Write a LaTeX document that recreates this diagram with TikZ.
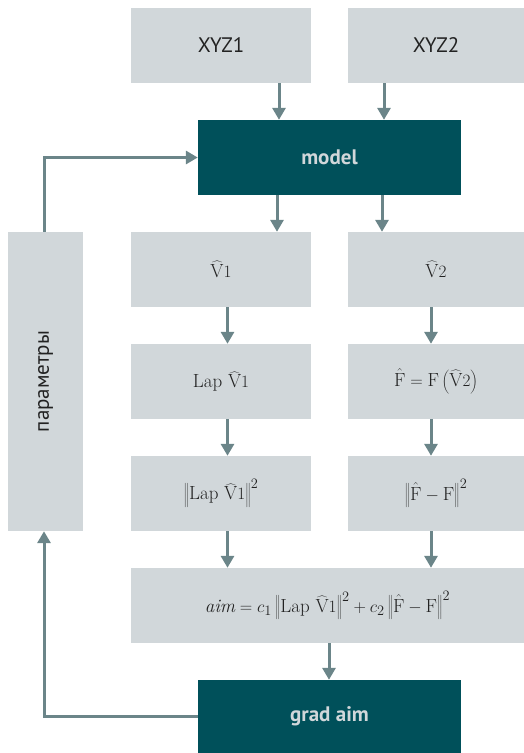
\documentclass[tikz,border=0pt]{standalone}
\usepackage{fontspec}
\setsansfont{PT Sans}
\usetikzlibrary{arrows.meta}
\definecolor{boxgray}{HTML}{D1D7DA}
\definecolor{teal}{HTML}{00505A}
\definecolor{arrgray}{HTML}{6B8589}
\definecolor{txt}{HTML}{222222}
\begin{document}
\begin{tikzpicture}[x=1pt,y=-1pt,
  graybox/.style={fill=boxgray,draw=none,inner sep=0pt,minimum height=75pt,text=txt},
  darkbox/.style={fill=teal,draw=none,inner sep=0pt,minimum width=263pt,minimum height=75pt,text=boxgray,font=\sffamily\bfseries\fontsize{21}{25}\selectfont},
  lbl/.style={font=\sffamily\fontsize{21}{25}\selectfont},
  mth/.style={font=\fontsize{19}{23}\selectfont},
  arr/.style={draw=arrgray,line width=3pt,-{Triangle[width=13pt,length=12pt]}},
  ln/.style={draw=arrgray,line width=3pt}]
\useasboundingbox (0,0) rectangle (524,753);
% top row
\node[graybox,lbl,minimum width=180pt] (xyz1) at (221,45.5) {XYZ1};
\node[graybox,lbl,minimum width=176pt] (xyz2) at (436,45.5) {XYZ2};
\node[darkbox] (model) at (329.5,157.5) {model};
% V row
\node[graybox,mth,minimum width=180pt] (v1) at (221,269.5) {$\widehat{\mathrm{V}}1$};
\node[graybox,mth,minimum width=176pt] (v2) at (436,269.5) {$\widehat{\mathrm{V}}2$};
% Lap row
\node[graybox,mth,minimum width=180pt] (lap) at (221,381.5) {$\mathrm{Lap}\ \widehat{\mathrm{V}}1$};
\node[graybox,mth,minimum width=176pt] (fhat) at (436,381.5) {$\hat{\mathrm{F}}=\mathrm{F}\left(\widehat{\mathrm{V}}2\right)$};
% norm row
\node[graybox,mth,minimum width=180pt] (n1) at (221,493.5) {$\left\|\mathrm{Lap}\ \widehat{\mathrm{V}}1\right\|^2$};
\node[graybox,mth,minimum width=176pt] (n2) at (436,493.5) {$\left\|\hat{\mathrm{F}}-\mathrm{F}\right\|^2$};
% aim
\node[graybox,mth,minimum width=393pt] (aim) at (327.5,605.5) {$\mathit{aim}=c_1\left\|\mathrm{Lap}\ \widehat{\mathrm{V}}1\right\|^2+c_2\left\|\hat{\mathrm{F}}-\mathrm{F}\right\|^2$};
\node[darkbox,minimum height=73pt] (grad) at (329.5,716.5) {grad aim};
% params
\node[graybox,lbl,minimum width=75pt,minimum height=299pt] (par) at (45.5,381.5) {};
\node[lbl,text=txt,rotate=90] (partxt) at (par.center) {параметры};
% helper x positions
\coordinate (a1) at (279,0);
\coordinate (a2) at (384,0);
\coordinate (b1) at (277,0);
\coordinate (b2) at (382,0);
\coordinate (c1) at (227.5,0);
\coordinate (c2) at (431,0);
\coordinate (d1) at (329,0);
\coordinate (e1) at (44,0);
% arrows
\draw[arr] (xyz1.south -| a1) -- (model.north -| a1);
\draw[arr] (xyz2.south -| a2) -- (model.north -| a2);
\draw[arr] (model.south -| b1) -- (v1.north -| b1);
\draw[arr] (model.south -| b2) -- (v2.north -| b2);
\draw[arr] (v1.south -| c1) -- (lap.north -| c1);
\draw[arr] (v2.south -| c2) -- (fhat.north -| c2);
\draw[arr] (lap.south -| c1) -- (n1.north -| c1);
\draw[arr] (fhat.south -| c2) -- (n2.north -| c2);
\draw[arr] (n1.south -| c1) -- (aim.north -| c1);
\draw[arr] (n2.south -| c2) -- (aim.north -| c2);
\draw[arr] (aim.south -| d1) -- (grad.north -| d1);
% feedback
\draw[arr] (grad.west) -- (grad.west -| e1) -- (par.south -| e1);
\draw[arr] (par.north -| e1) -- (model.west -| e1) -- (model.west);
\end{tikzpicture}
\end{document}
